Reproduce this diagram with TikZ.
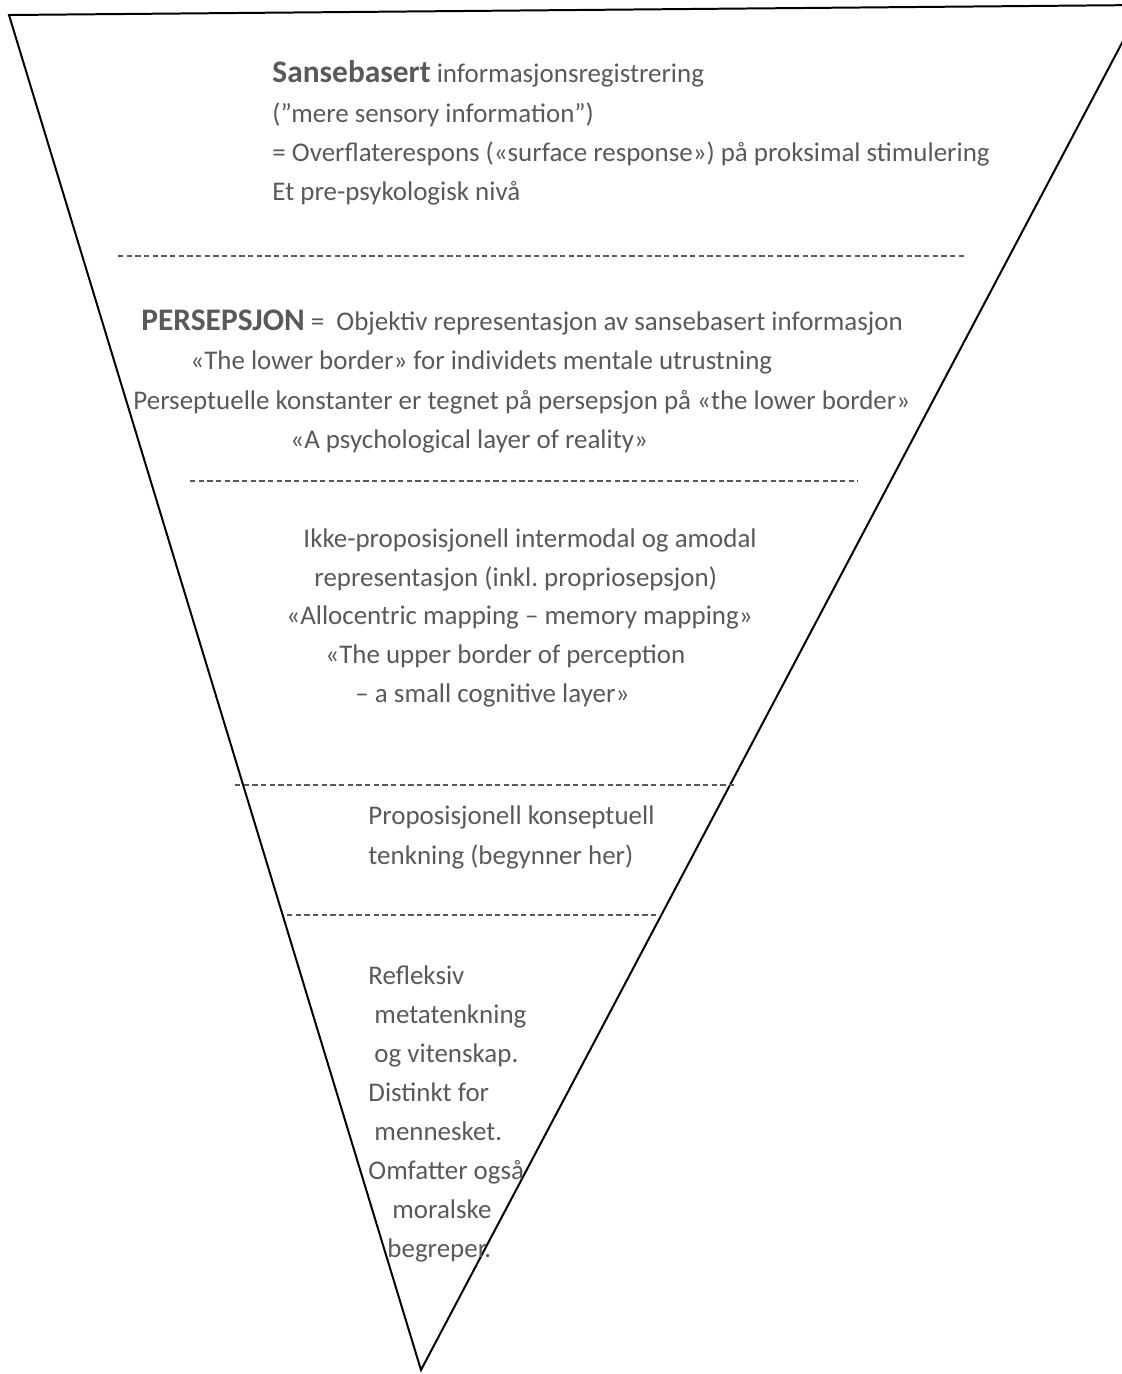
\documentclass[tikz,border=0pt]{standalone}
\usepackage{fontspec}
\setmainfont{Carlito}
\frenchspacing
\definecolor{txtgray}{HTML}{595959}
\newcommand{\headword}[1]{{\fontsize{13.4}{15}\selectfont\bfseries #1}}

\begin{document}
\begin{tikzpicture}[x=0.015cm, y=-0.015cm,
    txt/.style={anchor=base west, inner sep=0pt, text=txtgray, font=\fontsize{11.5}{13}\selectfont},
    border/.style={draw=black, line width=0.85pt, line join=miter},
    divider/.style={draw=txtgray, line width=0.8pt, dash pattern=on 0.08cm off 0.05cm}]
            \useasboundingbox (0,0) rectangle (1122,1374);
            \clip (0,0) rectangle (1122,1374);
            \coordinate (topL) at (9,15);
            \coordinate (topR) at (1142,5);
            \coordinate (tip) at (421,1370);
            \draw[border] (topL) -- (topR) -- (tip) -- cycle;

            \node[txt] (sense1) at (272,82) {\headword{Sansebasert} informasjonsregistrering};
            \node[txt] (sense2) at (272,122) {(”mere sensory information”)};
            \node[txt] (sense3) at (272,161) {= Overflaterespons («surface response») på proksimal stimulering};
            \node[txt] (sense4) at (272,200) {Et pre-psykologisk nivå};

            \coordinate (div1L) at (118,256);
            \coordinate (div1R) at (965,256);
            \draw[divider] (div1L) -- (div1R);

            \node[txt] (percept1) at (141,330) {\headword{PERSEPSJON} =\ \ Objektiv representasjon av sansebasert informasjon};
            \node[txt] (percept2) at (190,369) {«The lower border» for individets mentale utrustning};
            \node[txt] (percept3) at (133,409) {Perseptuelle konstanter er tegnet på persepsjon på «the lower border»};
            \node[txt] (percept4) at (290,448) {«A psychological layer of reality»};

            \coordinate (div2L) at (190,481);
            \coordinate (div2R) at (858,481);
            \draw[divider] (div2L) -- (div2R);

            \node[txt] (amodal1) at (303,547) {Ikke-proposisjonell intermodal og amodal};
            \node[txt] (amodal2) at (314,586) {representasjon (inkl. propriosepsjon)};
            \node[txt] (amodal3) at (286,624) {«Allocentric mapping – memory mapping»};
            \node[txt] (amodal4) at (325,663) {«The upper border of perception};
            \node[txt] (amodal5) at (355,702) {– a small cognitive layer»};

            \coordinate (div3L) at (235,785);
            \coordinate (div3R) at (734,785);
            \draw[divider] (div3L) -- (div3R);

            \node[txt] (concept1) at (368,824) {Proposisjonell konseptuell};
            \node[txt] (concept2) at (368,864) {tenkning (begynner her)};

            \coordinate (div4L) at (287,915);
            \coordinate (div4R) at (660,915);
            \draw[divider] (div4L) -- (div4R);

            \node[txt] (reflex1) at (368,984) {Refleksiv};
            \node[txt] (reflex2) at (374,1023) {metatenkning};
            \node[txt] (reflex3) at (374,1062) {og vitenskap.};
            \node[txt] (reflex4) at (368,1101) {Distinkt for};
            \node[txt] (reflex5) at (374,1140) {mennesket.};
            \node[txt] (reflex6) at (368,1179) {Omfatter også};
            \node[txt] (reflex7) at (392,1218) {moralske};
            \node[txt] (reflex8) at (387,1257) {begreper.};
        \end{tikzpicture}
\end{document}
